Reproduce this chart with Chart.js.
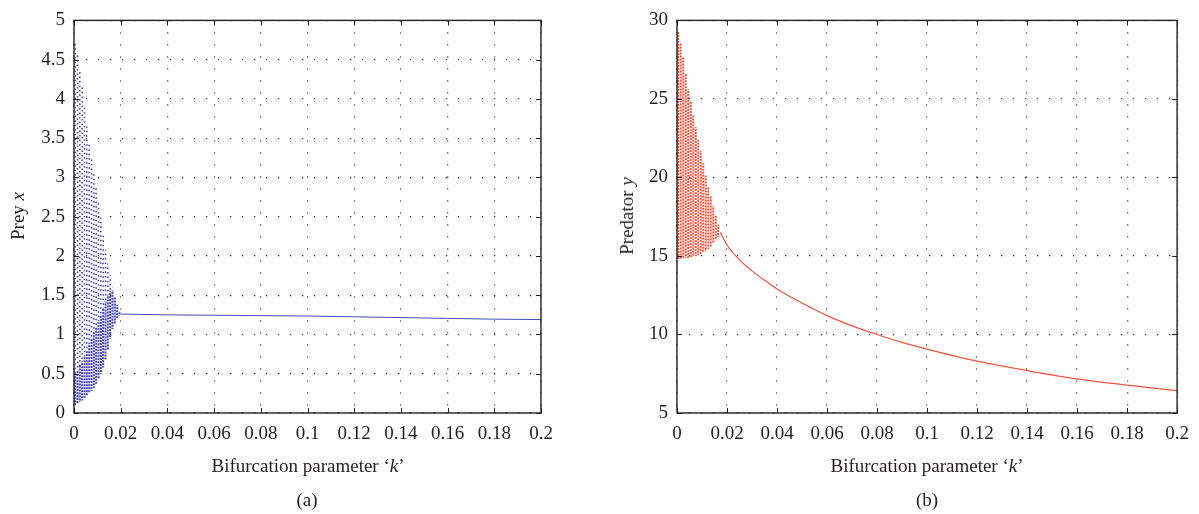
<!DOCTYPE html>
<html>
<head>
<meta charset="utf-8">
<title>Bifurcation diagrams</title>
<script src="https://cdn.jsdelivr.net/npm/chart.js@4.4.1/dist/chart.umd.min.js"></script>
<style>
  html, body { margin: 0; padding: 0; background: #fff; }
  #wrap { position: relative; width: 1199px; height: 514px; overflow: hidden;
          font-family: "Liberation Serif", "DejaVu Serif", serif; color: #231f20; }
  .pane { position: absolute; top: 0; height: 514px; }
  .txt { position: absolute; font-size: 19px; white-space: nowrap; transform: translate(-50%, -50%); }
  .ytxt { transform: translate(-50%, -50%) rotate(-90deg); }
</style>
</head>
<body>
<div id="wrap">
  <div class="pane" style="left:0;width:600px"><canvas id="prey"></canvas></div>
  <div class="pane" style="left:600px;width:599px"><canvas id="pred"></canvas></div>

  <div class="txt ytxt" style="left:18px;top:216px">Prey <i>x</i></div>
  <div class="txt" style="left:308px;top:466px">Bifurcation parameter ‘<i>k</i>’</div>
  <div class="txt" style="left:307px;top:500px">(a)</div>

  <div class="txt ytxt" style="left:627px;top:216px">Predator <i>y</i></div>
  <div class="txt" style="left:927px;top:466px">Bifurcation parameter ‘<i>k</i>’</div>
  <div class="txt" style="left:927px;top:500px">(b)</div>
</div>

<script>
// k ticks shared by both panels
const kTicks = [0, 0.02, 0.04, 0.06, 0.08, 0.1, 0.12, 0.14, 0.16, 0.18, 0.2];

// prey x: oscillating band, one column per k sample
const preyK = [0.0005, 0.0015, 0.0025, 0.0035, 0.0045, 0.0055, 0.0065, 0.0075, 0.0085, 0.0095,
               0.0105, 0.0115, 0.0125, 0.0135, 0.0145, 0.0155, 0.0165, 0.0175, 0.0185, 0.0195];
const preyLow   = [0.10, 0.12, 0.14, 0.16, 0.19, 0.22, 0.25, 0.28, 0.32, 0.37,
                   0.43, 0.50, 0.58, 0.68, 0.80, 0.95, 1.07, 1.14, 1.20, 1.24];
const preyDense = [0.50, 0.55, 0.60, 0.66, 0.72, 0.80, 0.88, 0.95, 1.02, 1.10,
                   1.17, 1.25, 1.33, 1.42, 1.50, 1.55, 1.55, 1.48, 1.38, 1.30];
const preyHigh  = [4.72, 4.58, 4.38, 4.15, 3.92, 3.65, 3.44, 3.25, 3.06, 2.87,
                   2.68, 2.49, 2.28, 2.08, 1.90, 1.75, 1.60, 1.48, 1.38, 1.30];
// prey x: stable equilibrium branch
const preyEqK = [0.02, 0.04, 0.06, 0.08, 0.1, 0.12, 0.14, 0.16, 0.18, 0.2];
const preyEqX = [1.26, 1.25, 1.245, 1.24, 1.235, 1.225, 1.215, 1.205, 1.195, 1.19];
const preyTicks = [0, 0.5, 1, 1.5, 2, 2.5, 3, 3.5, 4, 4.5, 5];

// predator y: oscillating band
const predK = [0.0005, 0.0015, 0.0025, 0.0035, 0.0045, 0.0055, 0.0065, 0.0075, 0.0085, 0.0095,
               0.0105, 0.0115, 0.0125, 0.0135, 0.0145, 0.0155, 0.0165];
const predLow  = [14.80, 14.80, 14.82, 14.85, 14.88, 14.90, 14.95, 15.00, 15.05, 15.12,
                  15.20, 15.30, 15.45, 15.60, 15.80, 16.00, 16.20];
const predHigh = [29.3, 28.6, 27.7, 26.6, 25.6, 24.8, 24.0, 23.2, 22.4, 21.7,
                  20.9, 20.1, 19.4, 18.8, 18.2, 17.6, 17.0];
// predator y: stable equilibrium branch
const predEqK = [0.0173, 0.02, 0.025, 0.03, 0.035, 0.04, 0.05, 0.06, 0.07, 0.08,
                 0.09, 0.1, 0.12, 0.14, 0.16, 0.18, 0.2];
const predEqY = [16.5, 15.7, 14.75, 14.05, 13.45, 12.9, 12.0, 11.2, 10.55, 10.0,
                 9.5, 9.07, 8.3, 7.7, 7.17, 6.77, 6.43];
const predTicks = [5, 10, 15, 20, 25, 30];

const INK = '#231f20';
const BLUE = '#4848b6';
const RED = '#f2553f';

// box around the plot area with MATLAB-style inward ticks
const boxPlugin = {
  id: 'box',
  afterDraw(chart) {
    const { ctx, chartArea: a, scales: { x, y } } = chart;
    ctx.save();
    ctx.strokeStyle = INK;
    ctx.lineWidth = 1;
    ctx.beginPath();
    x.ticks.forEach(t => {
      const px = Math.round(x.getPixelForValue(t.value)) + 0.5;
      ctx.moveTo(px, a.bottom); ctx.lineTo(px, a.bottom - 5);
      ctx.moveTo(px, a.top); ctx.lineTo(px, a.top + 5);
    });
    y.ticks.forEach(t => {
      const py = Math.round(y.getPixelForValue(t.value)) + 0.5;
      ctx.moveTo(a.left, py); ctx.lineTo(a.left + 5, py);
      ctx.moveTo(a.right, py); ctx.lineTo(a.right - 5, py);
    });
    ctx.stroke();
    ctx.lineWidth = 1.4;
    ctx.strokeRect(a.left, a.top, a.right - a.left, a.bottom - a.top);
    ctx.restore();
  }
};

function fmt(v) { return String(+(+v).toFixed(4)); }

function axes(yMin, yMax, yTickVals, yWidth) {
  const grid = { color: '#222', lineWidth: 1.2, drawTicks: false };
  const border = { display: false, dash: [1.2, 10.8] };
  const font = { family: '"Liberation Serif", "DejaVu Serif", serif', size: 19 };
  return {
    x: {
      type: 'linear', min: 0, max: 0.2,
      grid, border,
      afterBuildTicks: s => { s.ticks = kTicks.map(v => ({ value: v })); },
      afterFit: s => { s.height = 101; },
      ticks: { color: INK, font, padding: 10, maxRotation: 0, callback: fmt }
    },
    y: {
      type: 'linear', min: yMin, max: yMax,
      grid, border,
      afterBuildTicks: s => { s.ticks = yTickVals.map(v => ({ value: v })); },
      afterFit: s => { s.width = yWidth; },
      ticks: { color: INK, font, padding: 9, callback: fmt }
    }
  };
}

// one dotted vertical stroke per k sample, from lo[i] to hi[i]
function columnSets(ks, lo, hi, color, width, dash) {
  return ks.map((k, i) => ({
    type: 'line',
    data: [{ x: k, y: lo[i] }, { x: k, y: hi[i] }],
    borderColor: color,
    borderWidth: width,
    borderDash: dash,
    borderDashOffset: (i * 2.3) % (dash[0] + dash[1]),
    pointRadius: 0,
    fill: false
  }));
}

function branch(ks, vals, color, width) {
  return {
    type: 'line',
    data: ks.map((k, i) => ({ x: k, y: vals[i] })),
    borderColor: color,
    borderWidth: width,
    cubicInterpolationMode: 'monotone',
    pointRadius: 0,
    fill: false
  };
}

const common = {
  animation: false,
  responsive: true,
  maintainAspectRatio: false,
  plugins: { legend: { display: false }, tooltip: { enabled: false } }
};

new Chart(document.getElementById('prey'), {
  type: 'scatter',
  data: {
    datasets: [
      ...columnSets(preyK, preyLow, preyDense, BLUE, 2, [2, 1]),
      ...columnSets(preyK, preyDense, preyHigh, BLUE, 1.6, [1.5, 3]),
      branch(preyEqK, preyEqX, BLUE, 1)
    ]
  },
  options: {
    ...common,
    layout: { padding: { left: 0, right: 59, top: 19, bottom: 0 } },
    scales: axes(0, 5, preyTicks, 74)
  },
  plugins: [boxPlugin]
});

new Chart(document.getElementById('pred'), {
  type: 'scatter',
  data: {
    datasets: [
      ...columnSets(predK, predLow, predHigh, RED, 2, [2, 1]),
      branch(predEqK, predEqY, RED, 1.2)
    ]
  },
  options: {
    ...common,
    layout: { padding: { left: 0, right: 21, top: 18, bottom: 0 } },
    scales: axes(5, 30, predTicks, 77)
  },
  plugins: [boxPlugin]
});
</script>
</body>
</html>
